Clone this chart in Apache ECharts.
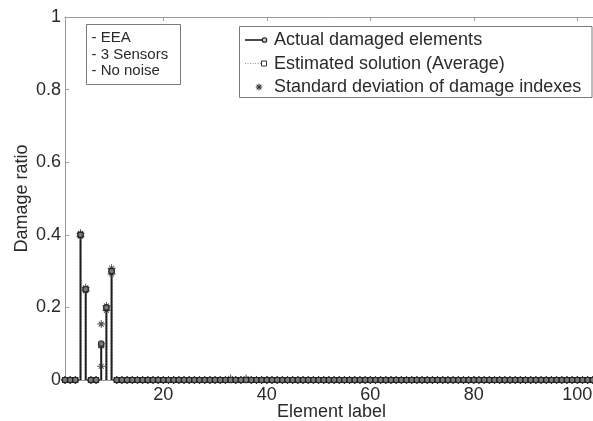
<!DOCTYPE html>
<html>
<head>
<meta charset="utf-8">
<script src="https://cdn.jsdelivr.net/npm/echarts@6/dist/echarts.min.js"></script>
<style>
  html, body { margin: 0; padding: 0; background: #fff; }
  #chart { width: 593px; height: 421px; }
</style>
</head>
<body>
<div id="chart"></div>
<script>
// Element labels along the beam (1..104)
const elements = [
  1, 2, 3, 4, 5, 6, 7, 8, 9, 10,
  11, 12, 13, 14, 15, 16, 17, 18, 19, 20,
  21, 22, 23, 24, 25, 26, 27, 28, 29, 30,
  31, 32, 33, 34, 35, 36, 37, 38, 39, 40,
  41, 42, 43, 44, 45, 46, 47, 48, 49, 50,
  51, 52, 53, 54, 55, 56, 57, 58, 59, 60,
  61, 62, 63, 64, 65, 66, 67, 68, 69, 70,
  71, 72, 73, 74, 75, 76, 77, 78, 79, 80,
  81, 82, 83, 84, 85, 86, 87, 88, 89, 90,
  91, 92, 93, 94, 95, 96, 97, 98, 99, 100,
  101, 102, 103, 104
];

// Actual damage ratio of each element
const actualDamage = [
  0, 0, 0, 0.40, 0.25, 0, 0, 0.10, 0.20, 0.30,
  0, 0, 0, 0, 0, 0, 0, 0, 0, 0,
  0, 0, 0, 0, 0, 0, 0, 0, 0, 0,
  0, 0, 0, 0, 0, 0, 0, 0, 0, 0,
  0, 0, 0, 0, 0, 0, 0, 0, 0, 0,
  0, 0, 0, 0, 0, 0, 0, 0, 0, 0,
  0, 0, 0, 0, 0, 0, 0, 0, 0, 0,
  0, 0, 0, 0, 0, 0, 0, 0, 0, 0,
  0, 0, 0, 0, 0, 0, 0, 0, 0, 0,
  0, 0, 0, 0, 0, 0, 0, 0, 0, 0,
  0, 0, 0, 0
];

// Estimated damage ratio (average over runs)
const estimatedDamage = [
  0, 0, 0, 0.400, 0.250, 0, 0, 0.096, 0.198, 0.300,
  0, 0, 0, 0, 0, 0, 0, 0, 0, 0,
  0, 0, 0, 0, 0, 0, 0, 0, 0, 0,
  0, 0, 0, 0, 0, 0, 0, 0, 0, 0,
  0, 0, 0, 0, 0, 0, 0, 0, 0, 0,
  0, 0, 0, 0, 0, 0, 0, 0, 0, 0,
  0, 0, 0, 0, 0, 0, 0, 0, 0, 0,
  0, 0, 0, 0, 0, 0, 0, 0, 0, 0,
  0, 0, 0, 0, 0, 0, 0, 0, 0, 0,
  0, 0, 0, 0, 0, 0, 0, 0, 0, 0,
  0, 0, 0, 0
];

// Standard deviation of the damage indexes
const stdDeviation = [
  0, 0, 0, 0.004, 0.004, 0, 0, 0.058, 0.006, 0.008,
  0, 0, 0, 0, 0, 0, 0, 0, 0, 0,
  0, 0, 0, 0, 0, 0, 0, 0, 0, 0,
  0, 0, 0.004, 0, 0, 0.004, 0, 0, 0, 0,
  0, 0, 0, 0, 0, 0, 0, 0, 0, 0,
  0, 0, 0, 0, 0, 0, 0, 0, 0, 0,
  0, 0, 0, 0, 0, 0, 0, 0, 0, 0,
  0, 0, 0, 0, 0, 0, 0, 0, 0, 0,
  0, 0, 0, 0, 0, 0, 0, 0, 0, 0,
  0, 0, 0, 0, 0, 0, 0, 0, 0, 0,
  0, 0, 0, 0
];

const xTickLabels = [20, 40, 60, 80, 100];
const yTickLabels = [0, 0.2, 0.4, 0.6, 0.8, 1];

const FONT = '"Liberation Sans", Arial, Helvetica, sans-serif';
const TEXT = '#2a2a2a';
const AXIS = '#9a9a9a';

const STAR = 'M-0.6,-5L0.6,-5L0.6,5L-0.6,5Z M-5,-0.6L5,-0.6L5,0.6L-5,0.6Z ' +
             'M-3.5,-2.7L-2.7,-3.5L3.5,2.7L2.7,3.5Z M2.7,-3.5L3.5,-2.7L-2.7,3.5L-3.5,2.7Z';

const actualPts = elements.map((e, i) => [e, actualDamage[i]]);
const estimatedPts = elements.map((e, i) => [e, estimatedDamage[i]]);
const stdPts = [];
elements.forEach((e, i) => {
  stdPts.push([e, estimatedDamage[i] + stdDeviation[i]]);
  stdPts.push([e, estimatedDamage[i] - stdDeviation[i]]);
});

// Vertical stem from the zero baseline up to the value
function stem(color, width, dash) {
  return function (params, api) {
    const x = api.value(0), y = api.value(1);
    const p0 = api.coord([x, 0]);
    const p1 = api.coord([x, y]);
    return {
      type: 'line',
      shape: { x1: p0[0], y1: p0[1], x2: p1[0], y2: p1[1] },
      style: { stroke: color, lineWidth: width, lineDash: dash || null }
    };
  };
}

// Small asterisk for the key, built from four strokes
function keyStar(cx, cy, r) {
  const d = r * 0.72;
  const s = { stroke: '#333', lineWidth: 1.1 };
  return [
    { type: 'line', shape: { x1: cx, y1: cy - r, x2: cx, y2: cy + r }, style: s },
    { type: 'line', shape: { x1: cx - r, y1: cy, x2: cx + r, y2: cy }, style: s },
    { type: 'line', shape: { x1: cx - d, y1: cy - d, x2: cx + d, y2: cy + d }, style: s },
    { type: 'line', shape: { x1: cx - d, y1: cy + d, x2: cx + d, y2: cy - d }, style: s }
  ];
}

const chart = echarts.init(document.getElementById('chart'), null, { renderer: 'canvas' });

chart.setOption({
  animation: false,
  backgroundColor: '#fff',
  textStyle: { fontFamily: FONT },
  grid: { left: 65, top: 17, width: 533, height: 363, containLabel: false, outerBoundsMode: 'none' },
  xAxis: [
    {
      type: 'value', min: 1, max: 104, position: 'bottom',
      name: 'Element label', nameLocation: 'middle', nameGap: 23, nameMoveOverlap: false,
      nameTextStyle: { fontFamily: FONT, fontSize: 18, color: TEXT },
      axisLine: { show: true, lineStyle: { color: AXIS, width: 1 } },
      axisTick: { show: true, inside: true, length: 4, customValues: xTickLabels, lineStyle: { color: AXIS } },
      axisLabel: { customValues: xTickLabels, margin: 6, fontFamily: FONT, fontSize: 18, color: TEXT },
      splitLine: { show: false }
    },
    {
      type: 'value', min: 1, max: 104, position: 'top',
      axisLine: { show: true, lineStyle: { color: AXIS, width: 1 } },
      axisTick: { show: true, inside: true, length: 4, customValues: xTickLabels, lineStyle: { color: AXIS } },
      axisLabel: { show: false },
      splitLine: { show: false }
    }
  ],
  yAxis: {
    type: 'value', min: 0, max: 1,
    name: 'Damage ratio', nameLocation: 'middle', nameGap: 34, nameMoveOverlap: false,
    nameTextStyle: { fontFamily: FONT, fontSize: 18, color: TEXT },
    axisLine: { show: true, lineStyle: { color: AXIS, width: 1 } },
    axisTick: { show: true, inside: true, length: 4, customValues: yTickLabels, lineStyle: { color: AXIS } },
    axisLabel: { customValues: yTickLabels, margin: 4, fontFamily: FONT, fontSize: 18, color: TEXT },
    splitLine: { show: false }
  },
  series: [
    {
      name: 'Estimated stems', type: 'custom', renderItem: stem('#555', 1.5, [1, 2]),
      data: estimatedPts, z: 2, silent: true
    },
    {
      name: 'Actual stems', type: 'custom', renderItem: stem('#1e1e1e', 2),
      data: actualPts, z: 3, silent: true
    },
    {
      name: 'Standard deviation of damage indexes', type: 'scatter',
      symbol: 'path://' + STAR, symbolSize: 8,
      itemStyle: { color: '#333', opacity: 0.9 },
      data: stdPts, z: 4, silent: true
    },
    {
      name: 'Estimated solution (Average)', type: 'scatter',
      symbol: 'rect', symbolSize: 5,
      itemStyle: { color: '#999', borderColor: '#222', borderWidth: 1.2 },
      data: estimatedPts, z: 5, silent: true
    },
    {
      name: 'Actual damaged elements', type: 'scatter',
      symbol: 'circle', symbolSize: 5.5,
      itemStyle: { color: '#777', borderColor: '#1a1a1a', borderWidth: 1.2 },
      data: actualPts, z: 6, silent: true
    }
  ],
  graphic: [
    // Case description box
    {
      type: 'group', z: 100,
      children: [
        { type: 'rect', shape: { x: 86.5, y: 24.5, width: 94, height: 60 },
          style: { fill: '#fff', stroke: '#7a7a7a', lineWidth: 1 } },
        { type: 'text', x: 91.5, y: 38, style: { text: '- EEA', font: '15px ' + FONT, fill: TEXT, verticalAlign: 'middle' } },
        { type: 'text', x: 91.5, y: 54.5, style: { text: '- 3 Sensors', font: '15px ' + FONT, fill: TEXT, verticalAlign: 'middle' } },
        { type: 'text', x: 91.5, y: 71, style: { text: '- No noise', font: '15px ' + FONT, fill: TEXT, verticalAlign: 'middle' } }
      ]
    },
    // Series key
    {
      type: 'group', z: 100,
      children: [
        { type: 'rect', shape: { x: 239.5, y: 26.5, width: 352.5, height: 71 },
          style: { fill: '#fff', stroke: '#7a7a7a', lineWidth: 1 } },
        { type: 'line', shape: { x1: 245, y1: 40, x2: 262, y2: 40 }, style: { stroke: '#1e1e1e', lineWidth: 1.6 } },
        { type: 'circle', shape: { cx: 264.5, cy: 40, r: 2.3 }, style: { fill: '#ccc', stroke: '#1e1e1e', lineWidth: 1.1 } },
        { type: 'text', x: 274, y: 40.5, style: { text: 'Actual damaged elements', font: '18px ' + FONT, fill: TEXT, verticalAlign: 'middle' } },
        { type: 'line', shape: { x1: 245, y1: 63.5, x2: 261, y2: 63.5 }, style: { stroke: '#999', lineWidth: 1, lineDash: [1, 1.5] } },
        { type: 'rect', shape: { x: 261.5, y: 61, width: 5, height: 5 }, style: { fill: '#fff', stroke: '#333', lineWidth: 1 } },
        { type: 'text', x: 274, y: 64, style: { text: 'Estimated solution (Average)', font: '18px ' + FONT, fill: TEXT, verticalAlign: 'middle' } }
      ].concat(keyStar(259, 87, 3.2), [
        { type: 'text', x: 274, y: 87.5, style: { text: 'Standard deviation of damage indexes', font: '18px ' + FONT, fill: TEXT, verticalAlign: 'middle' } }
      ])
    }
  ]
});
</script>
</body>
</html>
